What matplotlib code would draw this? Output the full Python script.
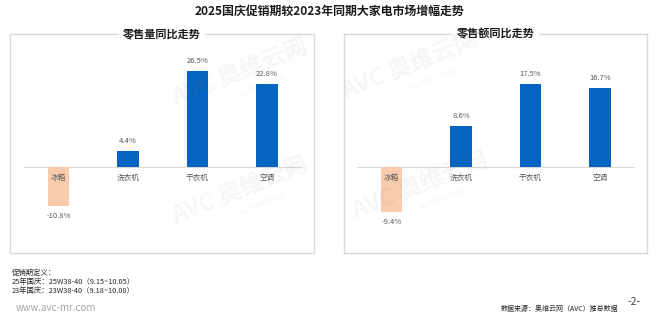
import matplotlib
matplotlib.use("Agg")
import matplotlib.pyplot as plt
from matplotlib.patches import Rectangle

plt.rcParams['font.family'] = ['Noto Sans CJK SC', 'DejaVu Sans']

categories = ["冰箱", "洗衣机", "干衣机", "空调"]
volume_yoy = [-10.8, 4.4, 26.5, 22.8]
value_yoy = [-9.4, 8.6, 17.5, 16.7]
panel_titles = ["零售量同比走势", "零售额同比走势"]
main_title = "2025国庆促销期较2023年同期大家电市场增幅走势"
notes = ["促销期定义：", "25年国庆：25W38-40（9.15~10.05）", "23年国庆：23W38-40（9.18~10.08）"]
source = "数据来源：奥维云网（AVC）推总数据"
site = "www.avc-mr.com"
page = "-2-"

W, H = 660, 324
fig = plt.figure(figsize=(W / 100, H / 100), dpi=100)

POS = "#0563C1"
NEG = "#F8CBAD"
TXT = "#595959"
BORDER = "#D9D9D9"


def fx(px):
    return px / W


def fy(py):
    return 1 - py / H


# panel boxes
boxes = [(10.5, 34, 314, 253), (344, 34, 647, 253)]
for (x0, y0, x1, y1), t in zip(boxes, panel_titles):
    fig.patches.append(Rectangle((fx(x0), fy(y1)), fx(x1 - x0), (y1 - y0) / H,
                                 transform=fig.transFigure, fill=False,
                                 edgecolor=BORDER, lw=1.0, zorder=0))
    fig.text(fx((x0 + x1) / 2), fy(y0), t, ha='center', va='center',
             fontsize=8, fontweight='bold', color='#1a1a1a',
             bbox=dict(facecolor='white', edgecolor='none', pad=3))

fig.text(fx(329), fy(11), main_title, ha='center', va='center',
         fontsize=8.6, fontweight='bold', color='#1a1a1a')

# axes: (left px, right px, px per %)
ax_specs = [(23.75, 301.75, 3.63, volume_yoy), (356.75, 634.75, 4.74, value_yoy)]
zero_px = 167
top_px, bot_px = 50, 245
for (l, r, scale, vals) in ax_specs:
    ax = fig.add_axes([fx(l), fy(bot_px), fx(r - l), (bot_px - top_px) / H])
    ax.set_xlim(-0.5, 3.5)
    ax.set_ylim(-(bot_px - zero_px) / scale, (zero_px - top_px) / scale)
    xs = list(range(len(categories)))
    colors = [POS if v >= 0 else NEG for v in vals]
    ax.bar(xs, vals, width=0.31, color=colors, zorder=2)
    ax.axhline(0, color='#D9D9D9', lw=0.9, zorder=1)
    for x, v, c in zip(xs, vals, categories):
        if v >= 0:
            ax.annotate(f"{v:.1f}%", (x, v), xytext=(0, 4.5), textcoords='offset points',
                        ha='center', va='bottom', fontsize=5.5, color=TXT)
        else:
            ax.annotate(f"{v:.1f}%", (x, v), xytext=(0, -4.5), textcoords='offset points',
                        ha='center', va='top', fontsize=5.5, color=TXT)
        ax.annotate(c, (x, 0), xytext=(0, -8), textcoords='offset points',
                    ha='center', va='center', fontsize=5.5, color=TXT, zorder=3)
    ax.axis('off')

# watermarks
for (px, py) in [(240, 72), (240, 190), (410, 65), (420, 185)]:
    fig.text(fx(px), fy(py), "AVC 奥维云网", ha='center', va='center', rotation=22,
             fontsize=17, fontweight='bold', style='italic', color='#888888', alpha=0.08,
             zorder=5)
    fig.text(fx(px + 22), fy(py + 14), "ALL VIEW CLOUD", ha='center', va='center', rotation=22,
             fontsize=4.5, color='#888888', alpha=0.1, zorder=5)

# footnotes
for i, n in enumerate(notes):
    fig.text(fx(12), fy(273 + 9 * i), n, ha='left', va='center', fontsize=5.3, color='#262626')
fig.text(fx(16), fy(308), site, ha='left', va='center', fontsize=7, color='#A6A6A6')
fig.text(fx(618), fy(309), source, ha='right', va='center', fontsize=5, color='#262626')
fig.text(fx(634), fy(302), page, ha='center', va='center', fontsize=7.5, color='#404040')

fig.savefig("out.png", dpi=100)
